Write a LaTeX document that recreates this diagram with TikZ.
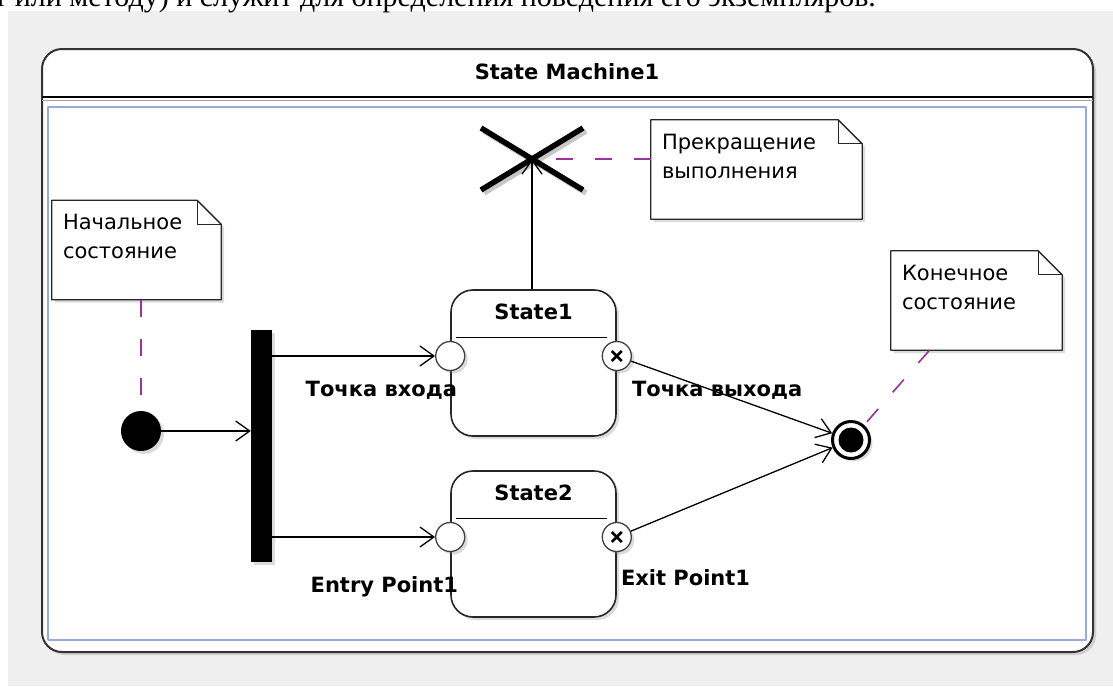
\documentclass[tikz,border=0pt]{standalone}
\usepackage{fontspec}
\setmainfont{DejaVu Sans}
\newfontfamily\bookserif{Liberation Serif}
\usetikzlibrary{positioning}
\usetikzlibrary{calc}
\usetikzlibrary{arrows.meta}
\usetikzlibrary{shadows}
\definecolor{panelgray}{RGB}{239,239,239}
\definecolor{frameblue}{RGB}{150,172,214}
\definecolor{linkpurple}{RGB}{153,51,153}
\newcommand{\umlnote}[4]{%
  \node[notearea, minimum width=#3] (#1) at #2 {};
  \draw[noteline] (#1.south west) -- (#1.north west) -- ([xshift=-24pt]#1.north east)
    -- ([yshift=-24pt]#1.north east) -- (#1.south east) -- cycle;
  \draw[line width=1.1pt, black!85] ([xshift=-24pt]#1.north east) |- ([yshift=-24pt]#1.north east);
  \node[notetext, anchor=north west] at ([shift={(11pt,-14pt)}]#1.north west) {#4};
}

\begin{document}
\begin{tikzpicture}[x=1pt, y=-1pt, line join=round,
    every node/.style={inner sep=0pt, font=\fontsize{21}{25}\selectfont\bfseries},
    softshadow/.style={drop shadow={opacity=0.28, shadow xshift=3pt, shadow yshift=-3pt}},
    statebox/.style={draw=black!85, line width=1.6pt, rounded corners=22pt, fill=white,
      minimum width=165pt, minimum height=146pt, softshadow},
    entrypt/.style={circle, draw=black!75, line width=1.3pt, fill=white, minimum size=29pt, softshadow},
    exitpt/.style={entrypt, path picture={
      \draw[black, line width=2.6pt] ([shift={(-5pt,-5pt)}]path picture bounding box.center)
        -- ([shift={(5pt,5pt)}]path picture bounding box.center)
        ([shift={(-5pt,5pt)}]path picture bounding box.center)
        -- ([shift={(5pt,-5pt)}]path picture bounding box.center);}},
    initst/.style={circle, fill=black, minimum size=40pt, softshadow},
    finalst/.style={circle, draw=black, line width=3pt, fill=white, minimum size=37pt, softshadow,
      path picture={\fill[black] (path picture bounding box.center) circle (12.5pt);}},
    forkbar/.style={rectangle, fill=black, minimum width=21pt, minimum height=232pt, softshadow},
    notearea/.style={rectangle, minimum height=99pt},
    noteline/.style={draw=black!85, line width=1.3pt, fill=white, softshadow},
    notetext/.style={font=\fontsize{21}{29}\selectfont, align=left},
    ptlabel/.style={font=\fontsize{21}{25}\selectfont\bfseries},
    transition/.style={-{Straight Barb[length=14pt, width=20pt]}, line width=1.3pt},
    anchorlink/.style={linkpurple, line width=1.6pt, dash pattern=on 17pt off 22pt}]

  \useasboundingbox (0,0) rectangle (1113,686);
  % page around the figure
  \fill[panelgray] (8,11) rectangle (1113,686);
  \begin{scope}
    \clip (0,0) rectangle (1113,686);
    \node[anchor=base west, font=\bookserif\fontsize{30}{32}\selectfont] (pageText) at (-6,6)
      {т или методу) и служит для определения поведения его экземпляров.};
  \end{scope}

  % state machine frame
  \draw[fill=white, draw=black!80, line width=2pt, rounded corners=20pt, softshadow] (42,49) rectangle (1093,652);
  \node (smTitle) at (567,72) {State Machine1};
  \draw[line width=2pt] (42,97) -- (1093,97);
  \draw[black!35, line width=1pt] (42,100) -- (1093,100);
  \draw[frameblue, line width=2.5pt] (48,107) rectangle (1086,640);

  % states with entry and exit points
  \foreach \i/\y in {1/363, 2/544} {
    \node[statebox] (s\i) at (533.5,\y) {};
    \node[below=15pt of s\i.north] (t\i) {State\i};
    \draw[line width=1.4pt] ([shift={(6pt,-48pt)}]s\i.north west) -- ([shift={(-10pt,-48pt)}]s\i.north east);
    \node[entrypt] (en\i) at ([yshift=7pt]s\i.west) {};
    \node[exitpt] (ex\i) at ([yshift=7pt]s\i.east) {};
  }

  \node[initst] (init) at (141,431) {};
  \node[forkbar] (fork) at (261.5,446) {};
  \node[coordinate] (term) at (532,159) {};
  \node[finalst] (final) at (851,440) {};

  % notes
  \umlnote{noteInit}{(136.5,250)}{169pt}{Начальное\\состояние}
  \umlnote{noteTerm}{(756.5,169.5)}{211pt}{Прекращение\\выполнения}
  \umlnote{noteFinal}{(976.5,300.5)}{171pt}{Конечное\\состояние}

  \draw[anchorlink] (init |- noteInit.south) -- (init);
  \draw[anchorlink] (noteTerm.west |- term) -- (term);
  \draw[anchorlink] ([xshift=-47pt]noteFinal.south) -- (final);

  % terminate cross
  \draw[black!22, line width=5.5pt] ([shift={(-48pt,-34pt)}]term) -- ([shift={(54pt,28pt)}]term)
    ([shift={(-48pt,28pt)}]term) -- ([shift={(54pt,-34pt)}]term);
  \draw[line width=5.5pt] ([shift={(-51pt,-31pt)}]term) -- ([shift={(51pt,31pt)}]term)
    ([shift={(-51pt,31pt)}]term) -- ([shift={(51pt,-31pt)}]term);

  % transitions
  \draw[transition] (init) -- (init -| fork.west);
  \draw[transition] (fork.east |- en1) -- (en1);
  \draw[transition] (fork.east |- en2) -- (en2);
  \draw[transition] (s1.north -| term) -- (term);
  \draw[transition] (ex1) -- (final);
  \draw[transition] (ex2) -- (final);

  % point labels
  \node[ptlabel, anchor=east] (lbEn1) at ([shift={(7pt,-34pt)}]en1) {Точка входа};
  \node[ptlabel, anchor=west] (lbEx1) at ([shift={(15pt,-34pt)}]ex1) {Точка выхода};
  \node[ptlabel, anchor=east] (lbEn2) at ([shift={(8pt,-50pt)}]en2) {Entry Point1};
  \node[ptlabel, anchor=west] (lbEx2) at ([shift={(4pt,-41pt)}]ex2) {Exit Point1};
\end{tikzpicture}
\end{document}
